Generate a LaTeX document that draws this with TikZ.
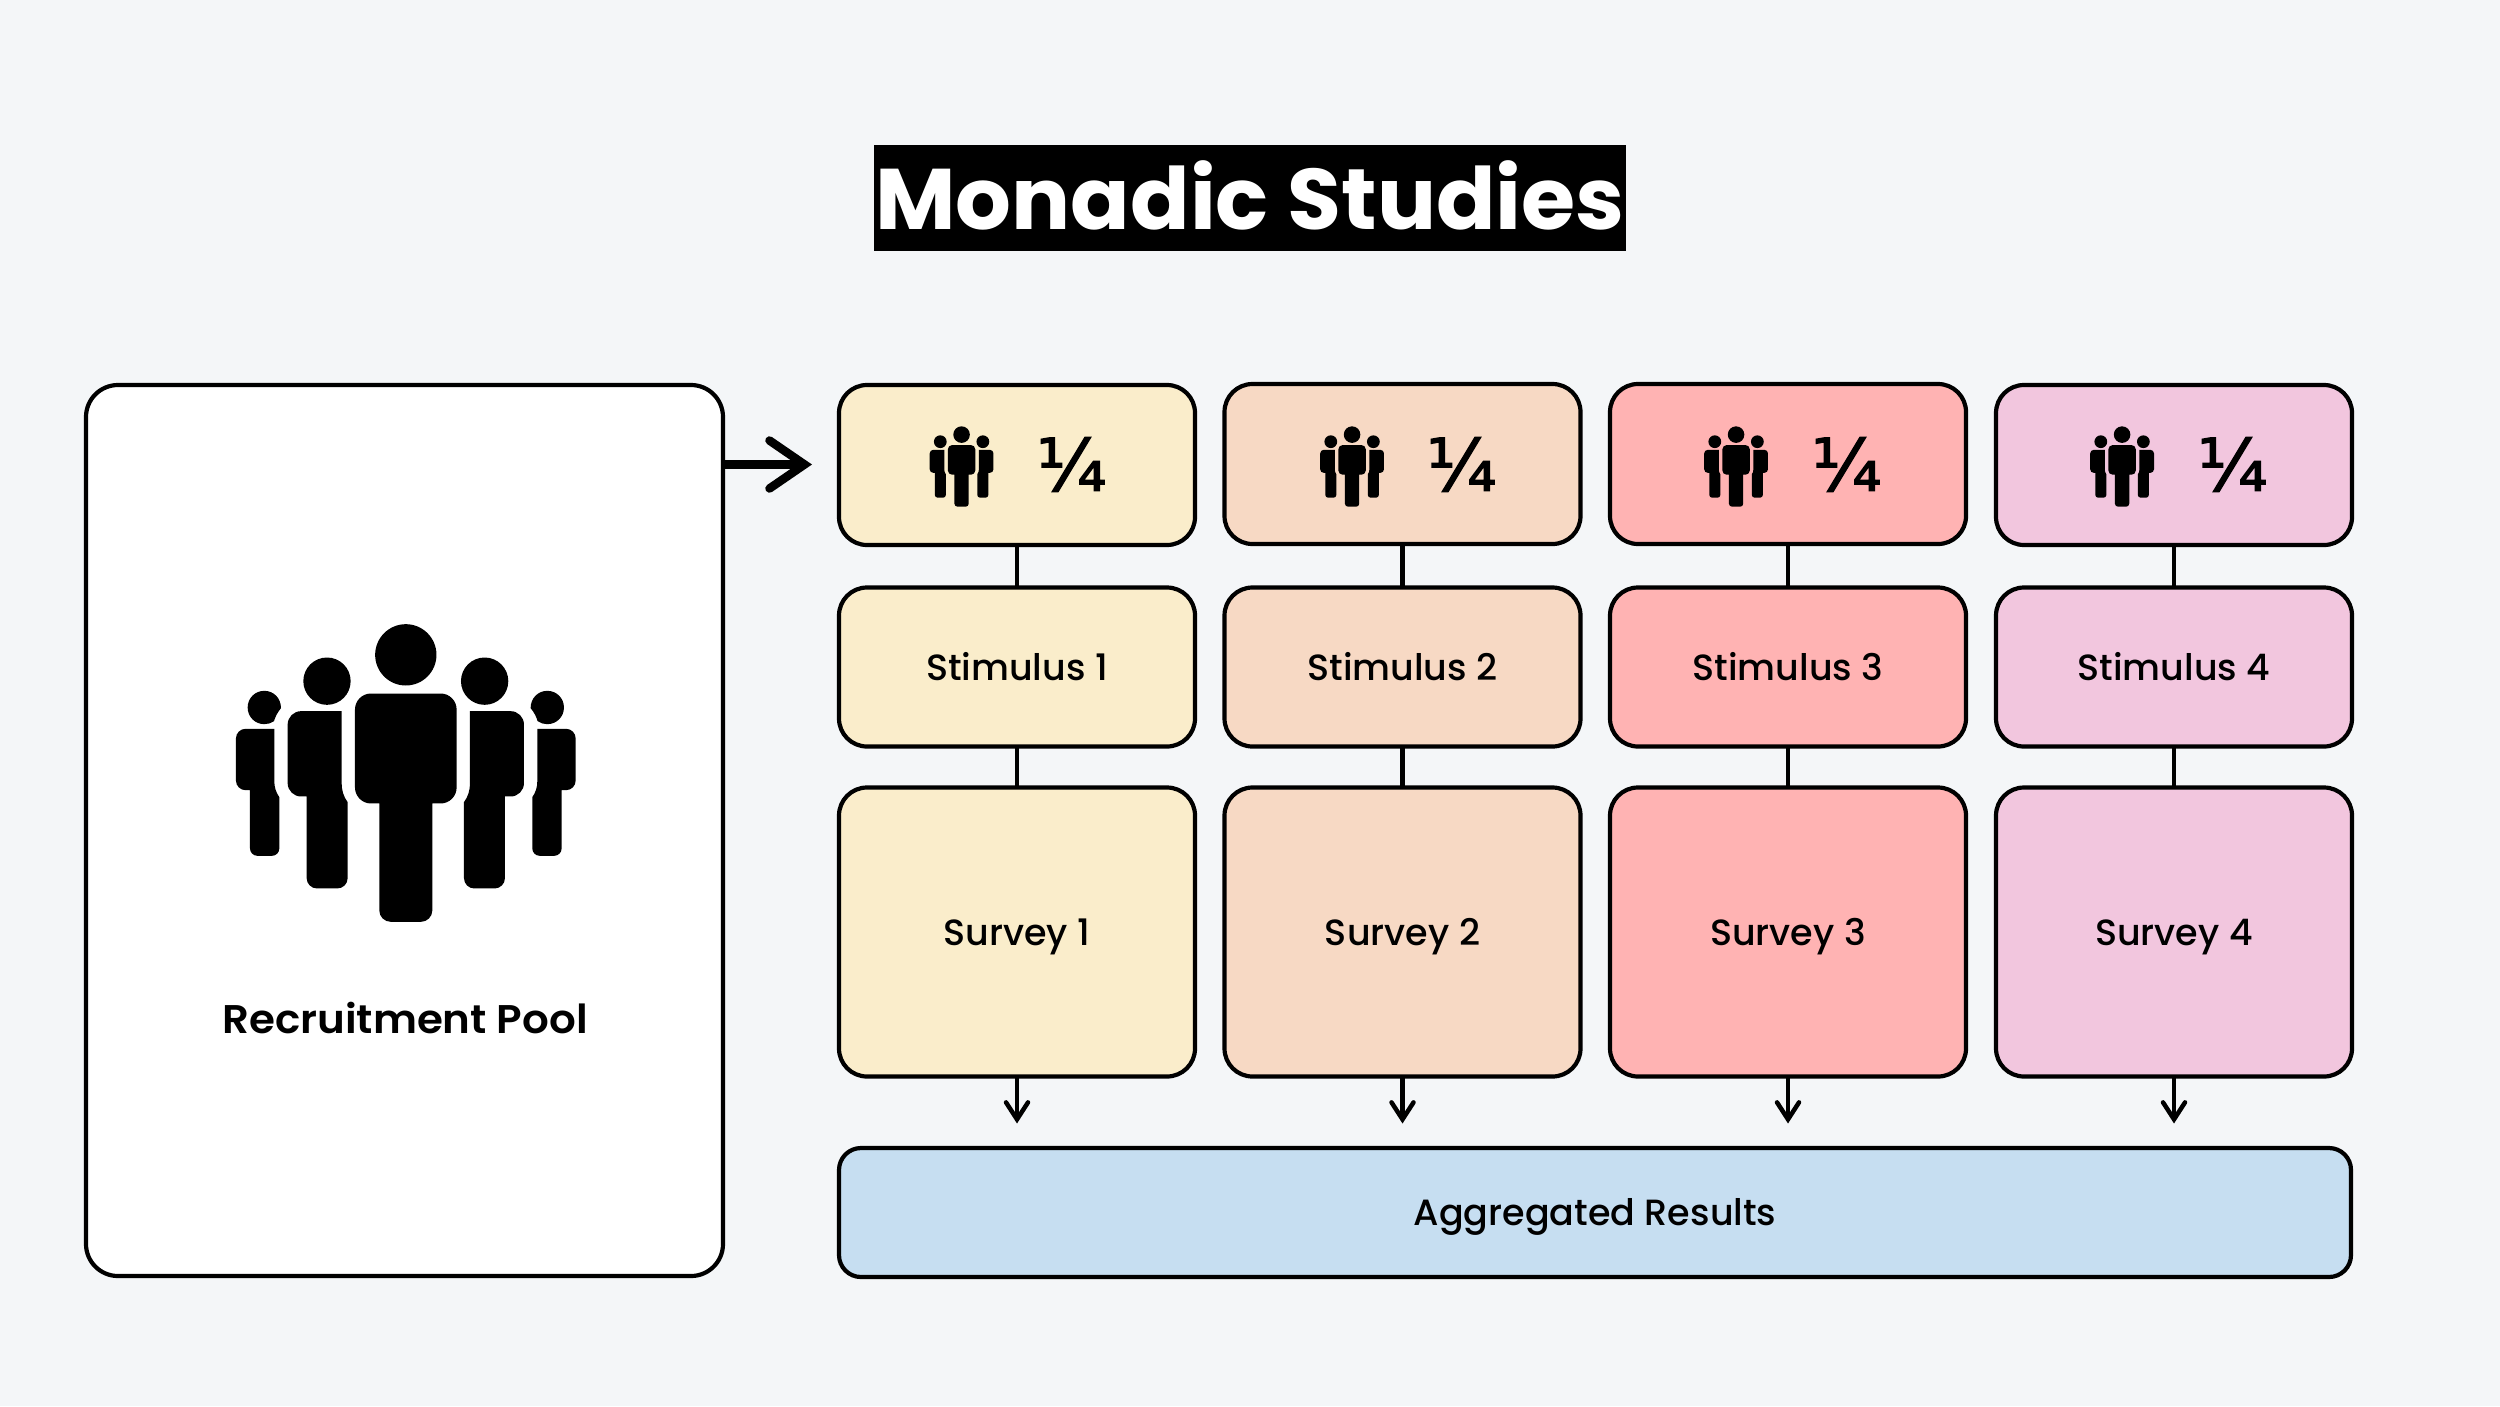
\documentclass[tikz,border=0pt]{standalone}
\usepackage{fontspec}
\usetikzlibrary{arrows.meta,calc}
\setmainfont{Poppins}
\newfontfamily\pmed{Poppins Medium}
\newfontfamily\psemi[FakeStretch=1.05]{Poppins SemiBold}
\newfontfamily\ptitle[FakeStretch=1.02]{Poppins Bold}
\newfontfamily\fracfont[FakeBold=2]{DejaVu Sans}
\definecolor{bgc}{HTML}{F4F6F8}
\definecolor{cA}{HTML}{FAEDCB}
\definecolor{cB}{HTML}{F7D9C4}
\definecolor{cC}{HTML}{FFB3B3}
\definecolor{cD}{HTML}{F2C6DE}
\definecolor{cE}{HTML}{C6DEF1}
\tikzset{
  x=1pt,y=-1pt,
  cardbox/.style={draw=black,line width=4.2pt,rounded corners=28pt,inner sep=0pt,outer sep=0pt,minimum width=356pt,align=center,text height=26pt,text depth=0pt,font=\pmed\fontsize{36.5}{36.5}\selectfont},
  link/.style={draw=black,line width=4.5pt},
  bigarrow/.style={draw=black,line width=8.5pt,-{Straight Barb[length=35pt,width=48pt,line width=8.5pt,line cap=round,line join=miter]}},
  smallarrow/.style={draw=black,line width=4.5pt,-{Straight Barb[length=17pt,width=22pt,line width=4.5pt,line cap=round,line join=miter]}},
  pics/personmain/.style={code={
    \fill[black] (617.5,190) circle[radius=92];
    \fill[black] (513,306) -- (722,306) .. controls (748.4,306) and (770,327.6) .. (770,354) -- (770,588) .. controls (770,614.4) and (748.4,636) .. (722,636) -- (697,636) -- (697,957) .. controls (697,975.7) and (681.7,991) .. (663,991) -- (572,991) .. controls (553.3,991) and (538,975.7) .. (538,957) -- (538,636) -- (513,636) .. controls (486.6,636) and (465,614.4) .. (465,588) -- (465,354) .. controls (465,327.6) and (486.6,306) .. (513,306) -- cycle;
  }},
  pics/persontwo/.style={code={
    \fill[black] (381,269) circle[radius=71];
    \fill[black] (425,359) -- (303,359) .. controls (281,359) and (263,377) .. (263,399) -- (263,575) .. controls (263,597) and (281,615) .. (303,615) -- (320,615) -- (320,860) .. controls (320,877) and (334,891) .. (351,891) -- (412,891) .. controls (429,891) and (443,877) .. (443,860) -- (443,632) .. controls (430,615) and (425,595) .. (425,575) -- cycle;
  }},
  pics/personthree/.style={code={
    \fill[black] (243,350) .. controls (243,320) and (221,298) .. (193,298) .. controls (165,298) and (143,320) .. (143,348) .. controls (143,376) and (165,398) .. (193,398) .. controls (204,398) and (214,395) .. (222,389) .. controls (226,375) and (233,362) .. (243,350) -- cycle;
    \fill[black] (223,412) -- (136,412) .. controls (121,412) and (108,425) .. (108,440) -- (108,568) .. controls (108,583) and (121,596) .. (136,596) -- (150,596) -- (150,771) .. controls (150,783) and (160,793) .. (172,793) -- (216,793) .. controls (228,793) and (238,783) .. (238,771) -- (238,617) .. controls (228,603) and (223,587) .. (223,570) -- cycle;
  }},
  mirrored/.style={transform shape,xscale=-1,shift={(-1235,0)}},
}
\begin{document}
\begin{tikzpicture}
\fill[bgc] (0,0) rectangle (2500,1406);
\useasboundingbox (0,0) rectangle (2500,1406);

% title
\node[fill=black,text=white,inner sep=0pt,outer sep=0pt,minimum width=752pt,minimum height=106pt,text height=80pt,text depth=18pt,font=\ptitle\fontsize{86}{86}\selectfont] (title) at (1250,198) {Monadic Studies};

% pool
\node[draw=black,fill=white,line width=4.2pt,rounded corners=32pt,inner sep=0pt,outer sep=0pt,minimum width=637pt,minimum height=891pt] (pool) at (404.5,830.5) {};
\node[font=\psemi\fontsize{40}{40}\selectfont,inner sep=0pt,text height=28pt,text depth=0pt] (pooltext) at (405,1019.5) {Recruitment Pool};

% big crowd
\begin{scope}[shift={(200,591.5)},scale=0.3333]
  \pic[transform shape] {personthree}; \pic[transform shape] {persontwo};
  \pic[mirrored] {personthree};
  \pic[mirrored] {persontwo};
  \pic[transform shape] {personmain};
\end{scope}

% columns
\foreach \i/\cx/\col/\ix/\fx/\qy in {1/1017/cA/906/1071.5/465,2/1402.5/cB/1296.5/1461.5/464,3/1788/cC/1680.5/1846.5/464,4/2174/cD/2066.5/2232.5/465}{
  \node[cardbox,fill=\col,minimum height=160pt] (q\i) at (\cx,\qy) {};
  \node[cardbox,fill=\col,minimum height=159pt] (s\i) at (\cx,667) {Stimulus \i};
  \node[cardbox,fill=\col,minimum height=289pt] (v\i) at (\cx,932) {Survey \i};
  \draw[link] (q\i.south) -- (s\i.north);
  \draw[link] (s\i.south) -- (v\i.north);
  \coordinate (d\i) at ($(v\i.south)+(0,47)$);
  \draw[smallarrow] (v\i.south) -- (d\i);
  \begin{scope}[shift={(\ix,417.5)},scale=0.09]
    \pic[transform shape] {persontwo};
    \pic[mirrored] {persontwo};
    \pic[transform shape] {personmain};
  \end{scope}
  \node[font=\fracfont\fontsize{72}{72}\selectfont,inner sep=0pt] (f\i) at (\fx,464.5) {¼};
}

% results
\node[cardbox,fill=cE,minimum width=1512pt,minimum height=129pt,rounded corners=22pt] (res) at (1595,1212.5) {Aggregated Results};

% arrow
\coordinate (pa) at (812,464.5);
\draw[bigarrow] (pool.east |- pa) -- (pa);
\end{tikzpicture}
\end{document}
